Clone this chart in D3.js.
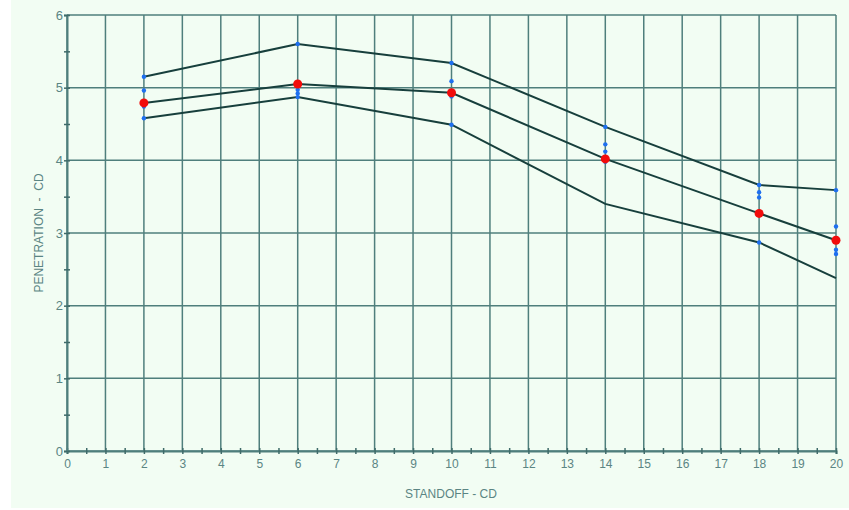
<!DOCTYPE html>
<html><head><meta charset="utf-8">
<script src="https://cdn.jsdelivr.net/npm/d3@7"></script>
<style>body{margin:0;background:#fff;}svg{display:block;}</style>
</head><body>
<script>
const standoff = [2, 6, 10, 14, 18, 20];
const upperBound = [5.15, 5.60, 5.34, 4.46, 3.66, 3.59];
const meanValue = [4.79, 5.05, 4.93, 4.02, 3.27, 2.90];
const lowerBound = [4.58, 4.87, 4.49, 3.40, 2.87, 2.38];
const testX = [2, 2, 2, 2, 6, 6, 6, 6, 10, 10, 10, 10, 14, 14, 14, 14, 18, 18, 18, 18, 20, 20, 20, 20];
const testY = [5.15, 4.96, 4.74, 4.58, 5.60, 4.97, 4.92, 4.87, 5.34, 5.09, 4.88, 4.49, 4.46, 4.22, 4.12, 3.98, 3.66, 3.56, 3.49, 2.87, 3.59, 3.09, 2.77, 2.71];
const xTicks = d3.range(0, 21);
const yTicks = d3.range(0, 7);

const W = 849, H = 510;
const svg = d3.select("body").append("svg").attr("width", W).attr("height", H);
svg.append("rect").attr("x", 11).attr("y", 0).attr("width", W - 11).attr("height", 508).attr("fill", "#f2fdf3");

const x = d3.scaleLinear().domain([0, 20]).range([67, 836]);
const y = d3.scaleLinear().domain([0, 6]).range([451, 15]);
const grid = "#4f7f7c";
const txt = "#5b8583";

// grid
svg.append("g").selectAll("line").data(xTicks).join("line")
  .attr("x1", d => x(d)).attr("x2", d => x(d)).attr("y1", y(0)).attr("y2", y(6))
  .attr("stroke", grid).attr("stroke-width", 1.5);
svg.append("g").selectAll("line").data(yTicks).join("line")
  .attr("x1", x(0)).attr("x2", x(20)).attr("y1", d => y(d)).attr("y2", d => y(d))
  .attr("stroke", grid).attr("stroke-width", 1.5);

// axes with minor ticks
const xAxis = d3.axisBottom(x).tickValues(d3.range(0, 20.5, 0.5)).tickSize(3)
  .tickFormat(d => Number.isInteger(d) ? d : "");
const gx = svg.append("g").attr("transform", `translate(0,${y(0)})`).call(xAxis);
gx.select(".domain").attr("stroke", grid).attr("stroke-width", 2);
gx.selectAll(".tick line").attr("stroke", "#3f6b69").attr("stroke-width", 1.5).attr("y1", -3).attr("y2", 3);
gx.selectAll("text").attr("fill", txt).attr("font-family", "Liberation Sans, Arial, sans-serif")
  .attr("font-size", 12).attr("dy", "0.95em").attr("y", 6);

const yAxis = d3.axisLeft(y).tickValues(d3.range(0, 6.5, 0.5)).tickSize(3)
  .tickFormat(d => Number.isInteger(d) ? d : "");
const gy = svg.append("g").attr("transform", `translate(${x(0)},0)`).call(yAxis);
gy.select(".domain").attr("stroke", grid).attr("stroke-width", 2);
gy.selectAll(".tick line").attr("stroke", "#3f6b69").attr("stroke-width", 1.5).attr("x1", -3).attr("x2", 3);
gy.selectAll("text").attr("fill", txt).attr("font-family", "Liberation Sans, Arial, sans-serif")
  .attr("font-size", 13).attr("x", -4);

// lines
const line = d3.line().x((d, i) => x(standoff[i])).y(d => y(d));
[upperBound, meanValue, lowerBound].forEach(s => {
  svg.append("path").datum(s).attr("d", line).attr("fill", "none")
    .attr("stroke", "#173f3c").attr("stroke-width", 2);
});

// test points
svg.append("g").selectAll("circle").data(testY).join("circle")
  .attr("cx", (d, i) => x(testX[i])).attr("cy", d => y(d)).attr("r", 2.2).attr("fill", "#1e6ff0");

// mean points
svg.append("g").selectAll("circle").data(meanValue).join("circle")
  .attr("cx", (d, i) => x(standoff[i])).attr("cy", d => y(d)).attr("r", 4.5).attr("fill", "#f20c0c");

// labels
svg.append("text").attr("x", 451).attr("y", 498).attr("text-anchor", "middle")
  .attr("fill", txt).attr("font-family", "Liberation Sans, Arial, sans-serif").attr("font-size", 12)
  .text("STANDOFF - CD");
svg.append("text").attr("transform", "translate(43,233) rotate(-90)").attr("text-anchor", "middle")
  .attr("fill", txt).attr("font-family", "Liberation Sans, Arial, sans-serif").attr("font-size", 12)
  .attr("xml:space", "preserve").style("white-space", "pre")
  .text("PENETRATION  -  CD");
</script>
</body></html>
